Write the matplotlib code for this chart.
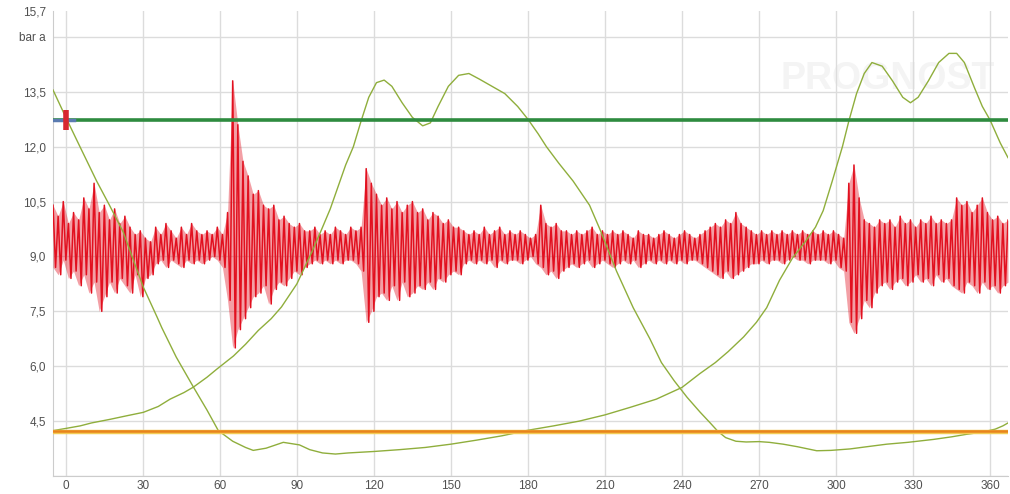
import numpy as np
import matplotlib.pyplot as plt

# kurbelwinkel-achse
x_ticks = [0, 30, 60, 90, 120, 150, 180, 210, 240, 270, 300, 330, 360]
y_ticks = [3.0, 4.5, 6.0, 7.5, 9.0, 10.5, 12.0, 13.5, 15.0, 15.7]
y_labels = ['', '4,5', '6,0', '7,5', '9,0', '10,5', '12,0', '13,5', 'bar a', '15,7']

# grenzwerte (waagrechte linien)
upper_limit = 12.72
lower_limit = 4.22

# druckkurve A (faellt links ab, steigt rechts an)
curve_a_x = [-5, 0, 5.5, 12, 17, 22.4, 26.3, 30.2, 35.5, 37.4, 43, 49.7, 55, 59.4, 65, 70, 73, 78, 84.7,
             91, 95, 100, 105, 110, 120, 130, 140, 150, 160, 170, 180, 190, 200, 210, 220, 230, 240,
             247, 253, 258, 264, 269, 273, 278, 283, 288, 292, 295, 298.5, 302.5, 305, 308, 311, 314,
             318, 322, 326, 329, 332, 336, 340, 344, 347, 350, 354, 357, 360, 364, 367]
curve_a_y = [13.55, 12.8, 12.0, 11.06, 10.4, 9.66, 8.9, 8.16, 7.35, 7.05, 6.25, 5.43, 4.8, 4.24, 3.95, 3.78,
             3.7, 3.76, 3.92, 3.85, 3.72, 3.63, 3.6, 3.63, 3.67, 3.72, 3.78, 3.87, 3.98, 4.1, 4.25, 4.37,
             4.5, 4.67, 4.88, 5.1, 5.42, 5.8, 6.1, 6.4, 6.8, 7.2, 7.6, 8.35, 8.95, 9.4, 9.8, 10.25, 11.05,
             12.0, 12.7, 13.45, 14.0, 14.3, 14.2, 13.8, 13.35, 13.2, 13.35, 13.8, 14.3, 14.55, 14.55, 14.3,
             13.6, 13.1, 12.73, 12.1, 11.7]

# druckkurve B (steigt links an, faellt in der mitte ab)
curve_b_x = [-5, 0, 5.6, 10, 17.3, 24, 30.2, 36, 40.6, 46, 49.7, 55, 58.8, 65.3, 70, 75, 80, 84, 90, 96,
             100, 103, 106, 109, 112, 115, 118, 121, 124, 127, 131, 135, 139, 142, 145, 149, 153, 157,
             161, 166, 171, 176, 180, 184, 187.2, 192, 197.6, 204, 208, 214.5, 221, 227.5, 232, 237,
             242, 247, 251, 254, 257, 261, 265, 270, 274, 279.4, 285, 292.5, 298, 305.5, 312, 319.8,
             328, 338, 345, 350.9, 357, 362, 365, 367]
curve_b_y = [4.24, 4.3, 4.37, 4.45, 4.55, 4.65, 4.74, 4.9, 5.1, 5.28, 5.43, 5.7, 5.92, 6.28, 6.6, 6.98,
             7.3, 7.62, 8.25, 9.15, 9.8, 10.3, 10.9, 11.5, 12.0, 12.7, 13.35, 13.75, 13.82, 13.65, 13.2,
             12.8, 12.57, 12.65, 13.1, 13.65, 13.95, 14.0, 13.85, 13.65, 13.45, 13.1, 12.75, 12.35, 12.0,
             11.55, 11.06, 10.4, 9.75, 8.6, 7.6, 6.75, 6.1, 5.6, 5.15, 4.75, 4.45, 4.22, 4.05, 3.95, 3.93,
             3.94, 3.92, 3.87, 3.8, 3.69, 3.7, 3.74, 3.8, 3.87, 3.92, 4.0, 4.07, 4.14, 4.2, 4.28, 4.37, 4.45]

# koerperschall: obere und untere huellkurve alle 2 grad ab -5
sig_start, sig_step = -5, 2
sig_hi = [10.4, 10.1, 10.5, 9.9, 10.2, 10.0, 10.6, 10.3, 11.0, 10.2,
          10.4, 10.0, 10.3, 9.9, 10.1, 9.8, 9.6, 9.7, 9.5, 9.4,
          9.8, 9.6, 9.9, 9.7, 9.5, 9.8, 9.6, 9.9, 9.7, 9.6,
          9.7, 9.6, 9.8, 9.6, 10.2, 13.8, 12.6, 11.6, 11.2, 10.7,
          10.8, 10.4, 10.3, 10.4, 10.0, 10.1, 9.9, 9.8, 9.9, 9.7,
          9.7, 9.8, 9.6, 9.7, 9.6, 9.8, 9.7, 9.6, 9.8, 9.7,
          9.8, 11.4, 11.0, 10.7, 10.4, 10.6, 10.3, 10.5, 10.2, 10.4,
          10.5, 10.2, 10.3, 10.0, 10.2, 10.1, 9.9, 10.0, 9.8, 9.8,
          9.7, 9.6, 9.7, 9.6, 9.8, 9.6, 9.7, 9.8, 9.6, 9.7,
          9.6, 9.7, 9.6, 9.5, 9.6, 10.4, 9.9, 9.8, 9.9, 9.7,
          9.7, 9.6, 9.7, 9.6, 9.7, 9.8, 9.6, 9.7, 9.6, 9.7,
          9.6, 9.7, 9.6, 9.5, 9.7, 9.6, 9.6, 9.5, 9.6, 9.7,
          9.6, 9.5, 9.6, 9.7, 9.6, 9.5, 9.6, 9.7, 9.8, 9.9,
          9.8, 10.0, 9.9, 10.2, 9.9, 9.8, 9.7, 9.6, 9.7, 9.6,
          9.7, 9.6, 9.7, 9.6, 9.7, 9.6, 9.7, 9.6, 9.7, 9.6,
          9.7, 9.6, 9.7, 9.6, 9.5, 11.0, 11.5, 10.6, 10.0, 9.9,
          9.8, 10.0, 9.9, 10.0, 9.8, 10.1, 9.9, 10.0, 9.8, 10.0,
          9.9, 10.1, 9.9, 10.0, 9.9, 10.0, 10.6, 10.4, 10.5, 10.2,
          10.4, 10.6, 10.2, 10.0, 10.1, 9.9, 10.0]
sig_lo = [8.7, 8.5, 8.9, 8.4, 8.6, 8.2, 8.5, 8.0, 8.3, 7.5,
          7.9, 8.3, 8.0, 8.4, 8.2, 8.0, 8.5, 7.9, 8.4, 8.5,
          8.8, 8.9, 8.7, 8.9, 8.8, 8.7, 8.9, 8.8, 8.9, 8.8,
          8.9, 9.0, 8.9, 8.7, 7.8, 6.5, 7.0, 7.3, 7.6, 7.9,
          8.0, 8.2, 7.7, 8.1, 8.3, 8.2, 8.4, 8.6, 8.5, 8.7,
          8.8, 8.9, 8.8, 8.9, 8.8, 8.9, 8.8, 8.9, 8.9, 8.8,
          8.6, 7.2, 7.5, 7.9, 8.0, 7.8, 8.2, 7.8, 8.3, 7.9,
          8.0, 8.2, 8.1, 8.3, 8.1, 8.4, 8.3, 8.5, 8.6, 8.5,
          8.8, 8.9, 8.8, 8.9, 8.8, 8.9, 8.7, 8.9, 8.8, 8.9,
          8.9, 8.8, 8.9, 9.0, 8.8, 8.7, 8.5, 8.6, 8.4, 8.6,
          8.7, 8.8, 8.7, 8.8, 8.9, 8.7, 8.8, 8.9, 8.8, 8.7,
          8.8, 8.9, 8.8, 8.9, 8.7, 8.8, 8.9, 8.8, 8.9, 8.8,
          8.9, 8.8, 8.9, 8.8, 8.9, 8.9, 8.8, 8.7, 8.6, 8.5,
          8.4, 8.6, 8.4, 8.5, 8.6, 8.7, 8.8, 8.8, 8.9, 8.8,
          8.9, 8.9, 8.8, 8.9, 9.0, 8.9, 8.9, 8.8, 8.9, 8.9,
          8.9, 8.8, 8.9, 8.7, 8.6, 7.2, 6.9, 7.3, 7.8, 7.6,
          8.0, 8.2, 8.3, 8.1, 8.3, 8.4, 8.2, 8.3, 8.5, 8.3,
          8.4, 8.2, 8.5, 8.3, 8.4, 8.2, 8.1, 8.0, 8.3, 8.2,
          8.0, 8.3, 8.1, 8.2, 8.0, 8.2, 8.3]

# marker am linken rand
marker_x = 0
marker_y = 12.72

plt.rcParams['font.family'] = ['Liberation Sans', 'DejaVu Sans']

fig = plt.figure(figsize=(10.10, 4.94), dpi=100)
ax = fig.add_axes([53 / 1010, 1 - 476 / 494, 955 / 1010, 464.7 / 494])

# signal: halbtransparentes band zwischen den huellkurven + zickzack fuer die spitzen
sig_x = sig_start + sig_step * np.arange(len(sig_hi))
zz_x = np.column_stack([sig_x, sig_x + sig_step / 2]).ravel()
zz_y = np.column_stack([sig_hi, sig_lo]).ravel()

ax.text(320, 13.85, 'PROGNOST', ha='center', va='center', fontsize=27, fontweight='bold',
        color='#f4f4f4', zorder=0.5)

ax.fill_between(sig_x, sig_lo, sig_hi, color='#e2101f', alpha=0.4, lw=0, zorder=3)
ax.plot(zz_x, zz_y, color='#e2101f', lw=1.1, zorder=3)

ax.plot(curve_a_x, curve_a_y, color='#8fae3c', lw=1.0, zorder=4)
ax.plot(curve_b_x, curve_b_y, color='#8fae3c', lw=1.0, zorder=4)

ax.axhline(upper_limit, color='#2e8b3f', lw=2.6, zorder=5)
ax.axhline(lower_limit - 0.03, color='#f3cc55', lw=3.2, zorder=5)
ax.axhline(lower_limit + 0.02, color='#e8841c', lw=1.8, zorder=5)

ax.plot([-5, 3], [marker_y, marker_y], color='#5a7bb0', lw=2.5, zorder=6)
ax.plot([marker_x], [marker_y], marker='|', markersize=14, mew=4, color='#d8262e', zorder=7)

ax.set_xlim(-5, 367)
ax.set_ylim(3.0, 15.7)
ax.set_xticks(x_ticks)
ax.set_xticklabels([str(v) for v in x_ticks])
ax.set_yticks(y_ticks)
ax.set_yticklabels(y_labels)
ax.grid(color='#dcdcdc', lw=1.0, zorder=0)
ax.yaxis.get_gridlines()[-1].set_visible(False)
ax.set_axisbelow(True)
ax.tick_params(length=0, labelsize=8.5, colors='#505050', pad=5)
ax.tick_params(axis='x', pad=3)

for s in ['top', 'right']:
    ax.spines[s].set_visible(False)
ax.spines['left'].set_color('#cccccc')
ax.spines['bottom'].set_color('#cccccc')

plt.savefig('out.png', dpi=100)
